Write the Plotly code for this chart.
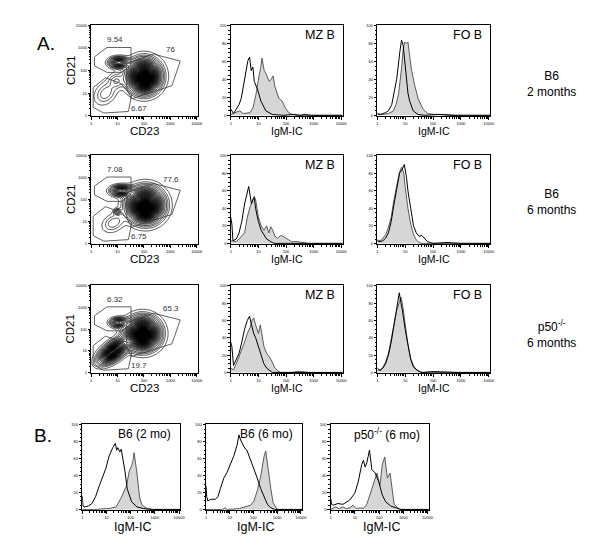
import numpy as np
import plotly.graph_objects as go

W, H = 600, 543

# ---------------- histogram data (log10 IgM-IC position, % of max) ----------------
r1_mz_open_lx = [0, 0.1, 0.2, 0.3, 0.38, 0.5, 0.56, 0.62, 0.68, 0.74, 0.8, 0.85, 0.97, 1.09, 1.27, 1.5, 1.9, 2.3, 2.5, 2.7, 2.9, 3.1, 4.05]
r1_mz_open_y = [7, 2, 7, 12, 19, 41, 52, 61, 65, 50, 54, 38, 29, 16, 5, 1, 0, 1, 0, 1, 0, 0, 0]
r1_mz_fill_lx = [0, 0.08, 0.2, 0.32, 0.45, 0.6, 0.7, 0.8, 0.91, 1.03, 1.08, 1.13, 1.17, 1.21, 1.27, 1.33, 1.39, 1.46, 1.53, 1.6, 1.67, 1.74, 1.86, 1.98, 2.1, 2.22, 2.4, 4.05]
r1_mz_fill_y = [1, 2, 3, 5, 2, 3, 3, 8, 23, 45, 52, 64, 58, 50, 47, 42, 38, 40, 44, 32, 24, 19, 16, 8, 3, 1, 0, 0]

r1_fo_open_lx = [0, 0.1, 0.2, 0.3, 0.4, 0.52, 0.6, 0.7, 0.81, 0.87, 0.93, 0.98, 1.04, 1.1, 1.16, 1.29, 1.46, 1.7, 2.2, 2.6, 4.05]
r1_fo_open_y = [2, 1, 2, 3, 5, 12, 25, 41, 71, 84, 78, 60, 38, 25, 16, 5, 1, 0, 1, 0, 0]
r1_fo_fill_lx = [0, 0.2, 0.4, 0.58, 0.67, 0.76, 0.87, 0.93, 0.98, 1.04, 1.1, 1.16, 1.22, 1.34, 1.46, 1.64, 1.81, 2.05, 2.5, 2.8, 4.05]
r1_fo_fill_y = [1, 1, 2, 5, 12, 23, 52, 74, 82, 80, 82, 68, 52, 34, 19, 7, 2, 1, 1, 0, 0]

r2_mz_open_lx = [0, 0.04, 0.08, 0.2, 0.3, 0.4, 0.5, 0.6, 0.65, 0.7, 0.75, 0.8, 0.85, 0.9, 1.0, 1.1, 1.2, 1.3, 1.4, 1.5, 1.6, 4.05]
r2_mz_open_y = [30, 22, 3, 5, 12, 25, 45, 60, 65, 55, 45, 50, 52, 40, 25, 15, 10, 5, 3, 1, 0, 0]
r2_mz_fill_lx = [0, 0.2, 0.3, 0.4, 0.5, 0.6, 0.7, 0.8, 0.85, 0.9, 1.0, 1.1, 1.2, 1.3, 1.38, 1.45, 1.52, 1.6, 1.7, 1.8, 1.9, 2.0, 2.1, 2.2, 2.4, 2.6, 2.8, 4.05]
r2_mz_fill_y = [3, 2, 5, 8, 12, 30, 42, 50, 54, 50, 30, 20, 15, 20, 12, 19, 15, 8, 6, 9, 8, 6, 4, 2, 2, 1, 0, 0]

r2_fo_open_lx = [0, 0.1, 0.2, 0.3, 0.4, 0.5, 0.6, 0.7, 0.8, 0.9, 0.97, 1.05, 1.1, 1.2, 1.3, 1.4, 1.5, 1.6, 1.7, 1.8, 1.9, 2.0, 2.5, 3.0, 4.05]
r2_fo_open_y = [3, 2, 3, 6, 12, 25, 45, 65, 80, 85, 90, 75, 60, 40, 20, 12, 8, 9, 5, 2, 1, 0, 1, 0, 0]
r2_fo_fill_lx = [0, 0.1, 0.2, 0.3, 0.4, 0.5, 0.6, 0.7, 0.8, 0.88, 0.95, 1.0, 1.1, 1.2, 1.3, 1.4, 1.5, 1.6, 4.05]
r2_fo_fill_y = [4, 3, 6, 10, 18, 30, 50, 68, 82, 87, 80, 65, 40, 22, 10, 4, 1, 0, 0]

r3_mz_open_lx = [0, 0.04, 0.1, 0.2, 0.3, 0.4, 0.5, 0.6, 0.68, 0.75, 0.83, 0.9, 1.0, 1.1, 1.2, 1.3, 1.4, 1.5, 4.05]
r3_mz_open_y = [35, 30, 8, 15, 22, 35, 50, 60, 65, 55, 45, 40, 30, 18, 10, 5, 2, 0, 0]
r3_mz_fill_lx = [0, 0.1, 0.2, 0.3, 0.4, 0.5, 0.6, 0.7, 0.77, 0.83, 0.9, 1.0, 1.07, 1.15, 1.2, 1.3, 1.4, 1.5, 1.6, 1.7, 1.8, 2.2, 2.4, 2.6, 2.8, 4.05]
r3_mz_fill_y = [5, 3, 10, 18, 25, 35, 45, 52, 60, 63, 55, 45, 55, 40, 30, 22, 18, 12, 5, 2, 0, 0, 1, 1, 0, 0]

r3_fo_open_lx = [0, 0.1, 0.2, 0.3, 0.4, 0.5, 0.6, 0.7, 0.79, 0.85, 0.9, 1.0, 1.1, 1.2, 1.3, 1.4, 1.5, 1.6, 2.0, 2.9, 4.05]
r3_fo_open_y = [5, 2, 5, 10, 20, 35, 55, 75, 92, 80, 72, 50, 30, 15, 6, 3, 1, 0, 1, 0, 0]
r3_fo_fill_lx = [0, 0.1, 0.2, 0.3, 0.4, 0.5, 0.6, 0.7, 0.8, 0.85, 0.9, 1.0, 1.1, 1.2, 1.3, 1.4, 1.5, 1.6, 4.05]
r3_fo_fill_y = [3, 3, 6, 12, 22, 38, 55, 72, 82, 87, 80, 55, 32, 16, 8, 3, 1, 0, 0]

b1_open_lx = [0, 0.03, 0.1, 0.25, 0.4, 0.55, 0.69, 0.83, 0.97, 1.11, 1.26, 1.37, 1.42, 1.47, 1.55, 1.61, 1.68, 1.76, 1.86, 2.04, 2.26, 2.54, 2.9, 4.05]
b1_open_y = [16, 4, 3, 4, 7, 15, 27, 37, 48, 63, 73, 78, 70, 73, 68, 71, 60, 46, 24, 9, 3, 1, 0, 0]
b1_fill_lx = [0, 0.5, 1.0, 1.11, 1.4, 1.61, 1.83, 1.94, 2.04, 2.1, 2.14, 2.2, 2.26, 2.37, 2.47, 2.69, 2.9, 4.05]
b1_fill_y = [0, 0, 1, 1, 3, 14, 28, 45, 52, 58, 67, 55, 43, 14, 5, 1, 0, 0]

b2_open_lx = [0, 0.03, 0.08, 0.2, 0.4, 0.5, 0.61, 0.75, 0.89, 1.03, 1.17, 1.31, 1.39, 1.46, 1.53, 1.6, 1.74, 1.88, 2.02, 2.16, 2.3, 2.45, 2.59, 2.73, 2.9, 4.05]
b2_open_y = [28, 15, 10, 12, 12, 15, 25, 37, 44, 54, 63, 76, 88, 82, 78, 74, 69, 59, 48, 37, 25, 14, 6, 2, 0, 0]
b2_fill_lx = [0, 0.7, 0.8, 0.9, 1.4, 1.88, 2.02, 2.16, 2.3, 2.45, 2.52, 2.59, 2.73, 2.83, 2.94, 3.0, 4.05]
b2_fill_y = [0, 0, 2, 0, 1, 5, 10, 22, 38, 63, 69, 52, 25, 8, 2, 0, 0]

b3_open_lx = [0, 0.03, 0.1, 0.3, 0.5, 0.78, 0.99, 1.13, 1.28, 1.35, 1.42, 1.49, 1.6, 1.65, 1.7, 1.84, 1.99, 2.13, 2.27, 2.48, 2.77, 2.9, 4.05]
b3_open_y = [13, 6, 5, 7, 6, 11, 19, 32, 53, 58, 50, 55, 70, 58, 47, 43, 32, 17, 9, 4, 1, 0, 0]
b3_fill_lx = [0, 0.2, 0.35, 0.5, 0.65, 0.8, 0.92, 1.05, 1.21, 1.35, 1.49, 1.63, 1.77, 1.91, 2.03, 2.13, 2.23, 2.34, 2.45, 2.55, 2.62, 2.77, 2.85, 4.05]
b3_fill_y = [0, 3, 1, 3, 1, 2, 5, 1, 2, 1, 6, 19, 32, 43, 28, 53, 62, 37, 43, 23, 6, 2, 0, 0]

# ---------------- contour (CD23 x CD21) population summaries, log10 units ----------------
r1_pop_cx = [2.0, 2.05, 1.05, 0.55, 0.95]
r1_pop_cy = [1.75, 1.6, 2.35, 1.0, 1.55]
r1_pop_sx = [0.32, 0.18, 0.2, 0.25, 0.18]
r1_pop_sy = [0.38, 0.2, 0.13, 0.3, 0.2]
r1_pop_w = [0.75, 0.35, 0.3, 0.05, 0.05]
r1_pop_rho = [0.0, 0.0, 0.0, 0.3, 0.0]

r2_pop_cx = [2.05, 2.05, 1.15, 1.0, 0.85]
r2_pop_cy = [1.75, 1.55, 2.4, 1.45, 0.95]
r2_pop_sx = [0.35, 0.2, 0.22, 0.08, 0.25]
r2_pop_sy = [0.4, 0.2, 0.13, 0.08, 0.25]
r2_pop_w = [0.75, 0.35, 0.3, 0.1, 0.05]
r2_pop_rho = [0.0, 0.0, 0.0, 0.0, 0.3]

r3_pop_cx = [1.95, 1.95, 1.05, 0.85, 0.8]
r3_pop_cy = [1.8, 1.7, 2.3, 1.0, 0.95]
r3_pop_sx = [0.33, 0.18, 0.18, 0.3, 0.15]
r3_pop_sy = [0.38, 0.2, 0.12, 0.3, 0.15]
r3_pop_w = [0.7, 0.3, 0.22, 0.45, 0.2]
r3_pop_rho = [0.0, 0.0, 0.0, 0.6, 0.5]

# gates (log10 CD23, log10 CD21)
gate_mz_x = [0.125, 0.6, 1.51, 1.51, 1.16, 0.6, 0.125, 0.125]
gate_mz_y = [2.61, 3.02, 3.02, 2.24, 1.92, 1.92, 2.21, 2.61]
gate_fo_x = [1.35, 2.35, 3.375, 3.06, 1.54, 1.35, 1.35]
gate_fo_y = [2.31, 2.73, 2.42, 1.33, 0.75, 1.14, 2.31]
gate_t_x = [0.075, 0.54, 1.1, 1.54, 1.41, 0.475, 0.075, 0.075]
gate_t_y = [1.245, 1.68, 1.44, 0.95, 0.19, 0.12, 0.37, 1.245]

gate_pct = [["9.54", "76", "6.67"], ["7.08", "77.6", "6.75"], ["6.32", "65.3", "19.7"]]
gate_lbl_x = [0.91, 3.02, 1.83]
gate_lbl_y = [3.36, 2.93, 0.34]

log_ticks = [1, 10, 100, 1000, 10000]
log_tick_text = ["1", "10", "100", "1000", "10000"]
row_labels = ["B6<br>2 months", "B6<br>6 months", "p50<sup>-/-</sup><br>6 months"]
b_titles = ["B6 (2 mo)", "B6 (6 mo)", "p50<sup>-/-</sup> (6 mo)"]

# ---------------- layout geometry (pixels) ----------------
a_cols = [(83, 191), (224, 337), (372, 486)]
a_rows = [(15, 107), (146, 236), (277, 366)]
row_label_y = [75, 193, 326]
b_cols = [(74, 173), (199, 296), (325, 424)]
b_row = (417, 504)

FONT = "Liberation Sans, Arial, sans-serif"

def px(x):
    return x / W

def py(y):
    return 1 - y / H

minor_log = [m * 10 ** k for k in range(4) for m in range(2, 10)]

fig = go.Figure()
layout = dict(width=W, height=H, margin=dict(l=0, r=0, t=0, b=0),
              paper_bgcolor="white", plot_bgcolor="white", showlegend=False,
              font=dict(family=FONT, color="black"))
annotations = []
axis_n = [0]

def axis_common():
    return dict(showline=True, linecolor="black", linewidth=1, mirror=True,
                ticks="outside", ticklen=2.5, tickwidth=0.8, tickcolor="black",
                showgrid=False, zeroline=False,
                tickfont=dict(size=4, family=FONT, color="black"))

def log_axis(rng):
    return dict(type="log", range=rng, tickmode="array", tickvals=log_ticks, ticktext=log_tick_text,
                minor=dict(tickmode="array", tickvals=minor_log, ticks="outside", ticklen=1.3,
                           tickwidth=0.5, tickcolor="black", showgrid=False))

def new_axes(xd, yd, ylog):
    axis_n[0] += 1
    n = axis_n[0]
    xa = axis_common()
    xa.update(domain=[px(xd[0]), px(xd[1])], anchor="y%d" % n)
    xa.update(log_axis([0, 4.05]))
    ya = axis_common()
    ya.update(domain=[py(yd[1]), py(yd[0])], anchor="x%d" % n)
    if ylog:
        ya.update(log_axis([-0.02, 4.02]))
    else:
        ya.update(range=[-1, 101], dtick=20,
                  minor=dict(ticks="outside", ticklen=1.3, tickwidth=0.5, tickcolor="black", dtick=5))
    layout["xaxis%d" % n if n > 1 else "xaxis"] = xa
    layout["yaxis%d" % n if n > 1 else "yaxis"] = ya
    return "x%d" % n, "y%d" % n

def add_hist(xr, yr, open_lx, open_y, fill_lx, fill_y):
    fig.add_trace(go.Scatter(x=[10 ** v for v in fill_lx], y=fill_y, xaxis=xr, yaxis=yr,
                             mode="lines", fill="tozeroy", fillcolor="#d6d6d6",
                             line=dict(color="#4a4a4a", width=0.9), hoverinfo="skip"))
    fig.add_trace(go.Scatter(x=[10 ** v for v in open_lx], y=open_y, xaxis=xr, yaxis=yr,
                             mode="lines", line=dict(color="black", width=1.0), hoverinfo="skip"))

grid = np.arange(0, 4.06, 0.03)
GX, GY = np.meshgrid(grid, grid)

def density(cx, cy, sx, sy, w, rho):
    z = np.zeros_like(GX)
    for a, b, s1, s2, ww, r in zip(cx, cy, sx, sy, w, rho):
        u = (GX - a) / s1
        v = (GY - b) / s2
        q = (u * u - 2 * r * u * v + v * v) / (1 - r * r)
        z += ww * np.exp(-0.5 * q)
    return z / z.max()

pops = [
    (r1_pop_cx, r1_pop_cy, r1_pop_sx, r1_pop_sy, r1_pop_w, r1_pop_rho),
    (r2_pop_cx, r2_pop_cy, r2_pop_sx, r2_pop_sy, r2_pop_w, r2_pop_rho),
    (r3_pop_cx, r3_pop_cy, r3_pop_sx, r3_pop_sy, r3_pop_w, r3_pop_rho),
]
hists_a = [
    [(r1_mz_open_lx, r1_mz_open_y, r1_mz_fill_lx, r1_mz_fill_y), (r1_fo_open_lx, r1_fo_open_y, r1_fo_fill_lx, r1_fo_fill_y)],
    [(r2_mz_open_lx, r2_mz_open_y, r2_mz_fill_lx, r2_mz_fill_y), (r2_fo_open_lx, r2_fo_open_y, r2_fo_fill_lx, r2_fo_fill_y)],
    [(r3_mz_open_lx, r3_mz_open_y, r3_mz_fill_lx, r3_mz_fill_y), (r3_fo_open_lx, r3_fo_open_y, r3_fo_fill_lx, r3_fo_fill_y)],
]
hists_b = [
    (b1_open_lx, b1_open_y, b1_fill_lx, b1_fill_y),
    (b2_open_lx, b2_open_y, b2_fill_lx, b2_fill_y),
    (b3_open_lx, b3_open_y, b3_fill_lx, b3_fill_y),
]

def ann(text, x, y, size, **kw):
    d = dict(text=text, x=px(x), y=py(y), xref="paper", yref="paper", showarrow=False,
             font=dict(size=size, family=FONT, color="black"), xanchor="center", yanchor="middle")
    d.update(kw)
    annotations.append(d)

shade = [[0, "rgba(0,0,0,0)"], [0.3, "rgba(0,0,0,0)"], [0.45, "rgba(40,40,40,0.35)"],
         [0.7, "rgba(20,20,20,0.6)"], [1, "rgba(0,0,0,0.75)"]]

for ri, (yt, yb) in enumerate(a_rows):
    # contour panel
    xr, yr = new_axes(a_cols[0], (yt, yb), True)
    z = density(*pops[ri])
    fig.add_trace(go.Contour(x=10 ** grid, y=10 ** grid, z=z, xaxis=xr, yaxis=yr,
                             contours=dict(coloring="fill", start=0.3, end=1.0, size=0.05, showlines=False),
                             line=dict(width=0, smoothing=1.0), zmin=0, zmax=1,
                             colorscale=shade, showscale=False, hoverinfo="skip"))
    for start, end, size, lw in [(0.05, 1.0, 0.022, 0.8), (0.01, 0.035, 0.0125, 0.7)]:
        fig.add_trace(go.Contour(x=10 ** grid, y=10 ** grid, z=z, xaxis=xr, yaxis=yr,
                                 contours=dict(coloring="lines", start=start, end=end, size=size),
                                 line=dict(width=lw, smoothing=1.0),
                                 colorscale=[[0, "black"], [1, "black"]], showscale=False,
                                 hoverinfo="skip"))
    for gx, gy in [(gate_mz_x, gate_mz_y), (gate_fo_x, gate_fo_y), (gate_t_x, gate_t_y)]:
        fig.add_trace(go.Scatter(x=[10 ** v for v in gx], y=[10 ** v for v in gy], xaxis=xr, yaxis=yr,
                                 mode="lines", line=dict(color="#3a3a3a", width=0.8), hoverinfo="skip"))
    for k in range(3):
        annotations.append(dict(text=gate_pct[ri][k], x=gate_lbl_x[k], y=gate_lbl_y[k],
                                xref=xr, yref=yr, showarrow=False,
                                font=dict(size=8, family=FONT, color="#333")))
    ann("CD23", (a_cols[0][0] + a_cols[0][1]) / 2, yb + 15, 11.5)
    ann("CD21", 62, (yt + yb) / 2, 11.5, textangle=-90)
    # histograms
    for ci, tag in [(1, "MZ B"), (2, "FO B")]:
        xr, yr = new_axes(a_cols[ci], (yt, yb), False)
        add_hist(xr, yr, *hists_a[ri][ci - 1])
        ann("IgM-IC", (a_cols[ci][0] + a_cols[ci][1]) / 2, yb + 15, 10.5)
        ann(tag, a_cols[ci][1] - 6, yt + 10, 12.5, xanchor="right")
    ann(row_labels[ri], 548, row_label_y[ri], 12)

for ci in range(3):
    xr, yr = new_axes(b_cols[ci], b_row, False)
    add_hist(xr, yr, *hists_b[ci])
    ann("IgM-IC", (b_cols[ci][0] + b_cols[ci][1]) / 2 + 2, b_row[1] + 17, 12.5)
    ann(b_titles[ci], b_cols[ci][1] - 7, b_row[0] + 10, 12, xanchor="right")

ann("A.", 37, 34, 19)
ann("B.", 34, 429, 19)

layout["annotations"] = annotations
fig.update_layout(**layout)
fig.write_html("out.html")
